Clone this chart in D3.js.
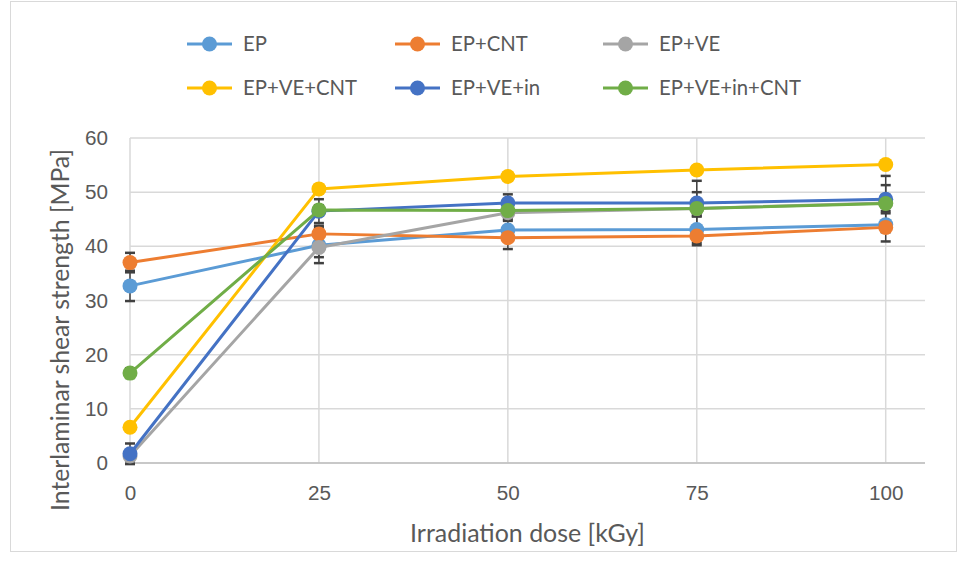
<!DOCTYPE html>
<html><head><meta charset="utf-8">
<script src="https://cdn.jsdelivr.net/npm/d3@7"></script>
<style>
body{margin:0;background:#fff;}
svg{display:block;font-family:Lato,"Open Sans",sans-serif;}
</style></head>
<body><svg id="c" width="963" height="580"></svg>
<script>
const doses = [0, 25, 50, 75, 100];
const seriesNames = ["EP", "EP+CNT", "EP+VE", "EP+VE+CNT", "EP+VE+in", "EP+VE+in+CNT"];
const colors = ["#5B9BD5", "#ED7D31", "#A5A5A5", "#FFC000", "#4472C4", "#70AD47"];
const valEP = [32.7, 40.2, 43.0, 43.1, 44.0];
const valEPCNT = [37.0, 42.3, 41.6, 41.9, 43.5];
const valEPVE = [1.3, 39.8, 46.2, 47.0, 48.0];
const valEPVECNT = [6.6, 50.6, 52.9, 54.1, 55.1];
const valEPVEin = [1.7, 46.5, 48.0, 48.0, 48.7];
const valEPVEinCNT = [16.6, 46.7, 46.6, 47.0, 47.9];
const errEP = [2.8, 3.3, 2.0, 2.5, 3.1];
const errEPCNT = [1.8, 1.5, 2.1, 1.7, 0.9];
const errEPVE = [1.0, 1.8, 1.5, 1.5, 1.5];
const errEPVECNT = [0.7, 0.7, 0.7, 0.7, 0.7];
const errEPVEin = [1.9, 2.2, 1.6, 2.0, 2.6];
const errEPVEinCNT = [0.9, 0.9, 0.9, 5.1, 5.1];
const yTicks = [0, 10, 20, 30, 40, 50, 60];

const values = [valEP, valEPCNT, valEPVE, valEPVECNT, valEPVEin, valEPVEinCNT];
const errors = [errEP, errEPCNT, errEPVE, errEPVECNT, errEPVEin, errEPVEinCNT];
const series = seriesNames.map((n, i) => ({name: n, color: colors[i],
  pts: doses.map((d, j) => ({x: d, y: values[i][j], e: errors[i][j]}))}));

const svg = d3.select("#c");
const textCol = "#595959", gridCol = "#d9d9d9";

function fitSize(sample, target) {
  const t = svg.append("text").attr("font-size", 20).text(sample);
  const w = t.node().getComputedTextLength();
  t.remove();
  return 20 * target / w;
}
const tickFs = fitSize("100", 36);
const yTitleFs = fitSize("Interlaminar shear strength [MPa]", 362);
const xTitleFs = fitSize("Irradiation dose [kGy]", 235);
const legFs = fitSize("EP+VE+in+CNT", 142);

svg.append("rect").attr("x", 10.5).attr("y", 1.5).attr("width", 946).attr("height", 550)
  .attr("fill", "#fff").attr("stroke", gridCol).attr("stroke-width", 1);

const x = d3.scaleLinear().domain([0, 105.2]).range([130, 925]);
const y = d3.scaleLinear().domain([0, 60]).range([463, 138]);

svg.append("g").selectAll("line").data(yTicks).join("line")
  .attr("x1", 130).attr("x2", 925).attr("y1", d => y(d)).attr("y2", d => y(d))
  .attr("stroke", gridCol).attr("stroke-width", 1.5);
svg.append("g").selectAll("line").data(doses).join("line")
  .attr("x1", d => x(d)).attr("x2", d => x(d)).attr("y1", y(60)).attr("y2", y(0))
  .attr("stroke", gridCol).attr("stroke-width", 1.5);
svg.append("line").attr("x1", 130).attr("x2", 925).attr("y1", y(0)).attr("y2", y(0))
  .attr("stroke", "#bfbfbf").attr("stroke-width", 1.5);

const yAxis = d3.axisLeft(y).tickValues(yTicks).tickSize(0).tickPadding(22);
const gy = svg.append("g").attr("transform", "translate(130,0)").call(yAxis);
gy.select(".domain").remove();
gy.selectAll("text").attr("fill", textCol).attr("font-size", tickFs).attr("font-family", null);
const xAxis = d3.axisBottom(x).tickValues(doses).tickSize(0).tickPadding(22);
const gx = svg.append("g").attr("transform", `translate(0,${y(0)})`).call(xAxis);
gx.select(".domain").remove();
gx.selectAll("text").attr("fill", textCol).attr("font-size", tickFs).attr("font-family", null);

svg.append("text").attr("x", (130 + 925) / 2).attr("y", 542).attr("text-anchor", "middle")
  .attr("fill", textCol).attr("font-size", xTitleFs).text("Irradiation dose [kGy]");
svg.append("text").attr("transform", `translate(69,330) rotate(-90)`)
  .attr("text-anchor", "middle").attr("fill", textCol).attr("font-size", yTitleFs)
  .text("Interlaminar shear strength [MPa]");

const eg = svg.append("g").attr("stroke", "#404040").attr("stroke-width", 1.5);
series.forEach(s => {
  s.pts.forEach(p => {
    eg.append("line").attr("x1", x(p.x)).attr("x2", x(p.x)).attr("y1", y(p.y - p.e)).attr("y2", y(p.y + p.e));
    [p.y - p.e, p.y + p.e].forEach(v => eg.append("line").attr("x1", x(p.x) - 5).attr("x2", x(p.x) + 5)
      .attr("y1", y(v)).attr("y2", y(v)).attr("stroke-width", 2.5));
  });
});

const line = d3.line().x(d => x(d.x)).y(d => y(d.y));
series.forEach(s => {
  const g = svg.append("g");
  g.append("path").datum(s.pts).attr("d", line).attr("fill", "none")
    .attr("stroke", s.color).attr("stroke-width", 3).attr("stroke-linejoin", "round");
  g.selectAll("circle").data(s.pts).join("circle")
    .attr("cx", d => x(d.x)).attr("cy", d => y(d.y)).attr("r", 7.5).attr("fill", s.color);
});

const legX = [187, 395, 603], legY = [44, 88];
series.forEach((s, i) => {
  const lx = legX[i % 3], ly = legY[Math.floor(i / 3)];
  const g = svg.append("g");
  g.append("line").attr("x1", lx).attr("x2", lx + 45).attr("y1", ly).attr("y2", ly)
    .attr("stroke", s.color).attr("stroke-width", 3);
  g.append("circle").attr("cx", lx + 22.5).attr("cy", ly).attr("r", 7.5).attr("fill", s.color);
  g.append("text").attr("x", lx + 56).attr("y", ly + 7).attr("fill", textCol)
    .attr("font-size", legFs).text(s.name);
});
</script></body></html>
